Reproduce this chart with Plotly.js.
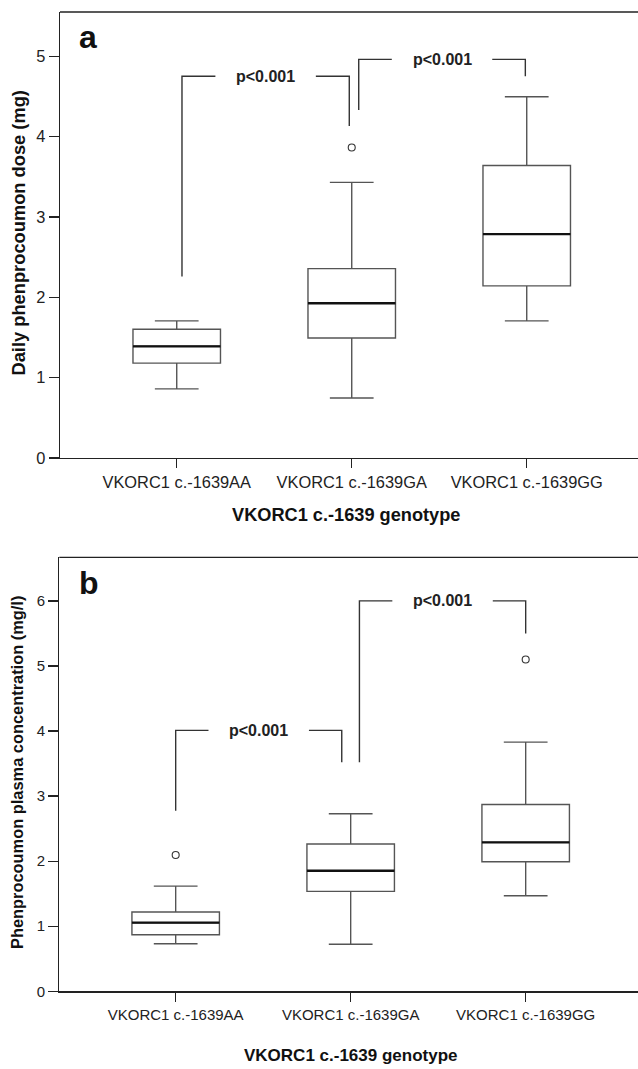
<!DOCTYPE html>
<html>
<head>
<meta charset="utf-8">
<script src="https://cdn.plot.ly/plotly-3.0.1.min.js"></script>
<style>html,body{margin:0;padding:0;background:#fff;overflow:hidden}#wrap{width:638px;height:1069px;overflow:hidden}#chart{width:643px;height:1069px}</style>
</head>
<body>
<div id="wrap"><div id="chart"></div></div>
<script>
// ---------- data ----------
const categories = ['VKORC1 c.-1639AA', 'VKORC1 c.-1639GA', 'VKORC1 c.-1639GG'];
const catIndex = [0, 1, 2];

// panel a: daily phenprocoumon dose (mg)
const doseLowerWhisker = [0.86, 0.747, 1.706];
const doseQ1 = [1.18, 1.494, 2.142];
const doseMedian = [1.39, 1.926, 2.786];
const doseQ3 = [1.602, 2.357, 3.64];
const doseUpperWhisker = [1.706, 3.43, 4.496];
const doseOutlierCat = [1];
const doseOutlierVal = [3.864];
const doseYTicks = [0, 1, 2, 3, 4, 5];

// panel b: phenprocoumon plasma concentration (mg/l)
const concLowerWhisker = [0.731, 0.722, 1.469];
const concQ1 = [0.87, 1.536, 1.991];
const concMedian = [1.054, 1.853, 2.289];
const concQ3 = [1.218, 2.263, 2.872];
const concUpperWhisker = [1.617, 2.728, 3.83];
const concOutlierCat = [0, 2];
const concOutlierVal = [2.094, 5.1];
const concYTicks = [0, 1, 2, 3, 4, 5, 6];

// significance brackets
const dosePairs = [[0, 1], [1, 2]];
const doseBracketTop = [4.75, 4.96];
const doseBracketFootLeft = [2.26, 4.33];
const doseBracketFootRight = [4.13, 4.75];
const doseBracketLabel = ['p<0.001', 'p<0.001'];

const concPairs = [[0, 1], [1, 2]];
const concBracketTop = [4.01, 6.0];
const concBracketFootLeft = [2.774, 3.52];
const concBracketFootRight = [3.52, 5.5];
const concBracketLabel = ['p<0.001', 'p<0.001'];

// ---------- style ----------
const FONT = 'Liberation Sans, Arial, sans-serif';
const W = 643, H = 1069;   // figure slightly wider than the view: right frame edge is cropped as in the original
const boxLine = '#555';
const dark = '#222';
const bracketStyle = {
  dose: {offL: [0.03, 0.04], offR: [-0.014, -0.008]},
  conc: {offL: [0.0, 0.05], offR: [-0.051, 0.0]},
  halfGap: 0.287
};

function px2paperY(p) { return 1 - p / H; }
function px2paperX(p) { return p / W; }

function boxTrace(xa, ya, lo, q1, med, q3, hi) {
  return {
    type: 'box', xaxis: xa, yaxis: ya,
    x: catIndex, q1: q1, median: med, q3: q3,
    lowerfence: lo, upperfence: hi,
    boxpoints: false, width: 0.5, whiskerwidth: 0.5,
    line: {color: boxLine, width: 1.4},
    fillcolor: 'rgba(0,0,0,0)',
    showlegend: false, hoverinfo: 'skip'
  };
}
function outlierTrace(xa, ya, cats, vals) {
  return {
    type: 'scatter', mode: 'markers', xaxis: xa, yaxis: ya,
    x: cats, y: vals,
    marker: {symbol: 'circle-open', size: 7, color: '#333', line: {width: 1.1}},
    showlegend: false, hoverinfo: 'skip'
  };
}
function bracketTraces(xa, ya, pairs, top, footL, footR, st) {
  const traces = [];
  pairs.forEach((p, i) => {
    const xl = p[0] + st.offL[i], xr = p[1] + st.offR[i];
    const mid = (xl + xr) / 2;
    traces.push({
      type: 'scatter', mode: 'lines', xaxis: xa, yaxis: ya,
      x: [xl, xl, mid - bracketStyle.halfGap, null, mid + bracketStyle.halfGap, xr, xr],
      y: [footL[i], top[i], top[i], null, top[i], top[i], footR[i]],
      line: {color: '#333', width: 1.4}, showlegend: false, hoverinfo: 'skip'
    });
  });
  return traces;
}
function bracketLabels(xr, yr, pairs, top, labels, st) {
  return pairs.map((p, i) => {
    const xl = p[0] + st.offL[i], xrr = p[1] + st.offR[i];
    return {
      xref: xr, yref: yr, x: (xl + xrr) / 2, y: top[i], text: '<b>' + labels[i] + '</b>',
      showarrow: false, xanchor: 'center', yanchor: 'middle',
      font: {family: FONT, size: 16, color: dark}
    };
  });
}
function medianShapes(xr, yr, med) {
  return med.map((m, i) => ({
    type: 'line', xref: xr, yref: yr, x0: catIndex[i] - 0.25, x1: catIndex[i] + 0.25,
    y0: m, y1: m, line: {color: '#111', width: 2.3}, layer: 'above'
  }));
}
function topBorder(xr, yr) {
  return {type: 'line', xref: xr + ' domain', yref: yr + ' domain', x0: 0, x1: 1, y0: 1, y1: 1,
          line: {color: dark, width: 1.3}, layer: 'above'};
}

const data = [].concat(
  [boxTrace('x', 'y', doseLowerWhisker, doseQ1, doseMedian, doseQ3, doseUpperWhisker)],
  [outlierTrace('x', 'y', doseOutlierCat, doseOutlierVal)],
  bracketTraces('x', 'y', dosePairs, doseBracketTop, doseBracketFootLeft, doseBracketFootRight, bracketStyle.dose),
  [boxTrace('x2', 'y2', concLowerWhisker, concQ1, concMedian, concQ3, concUpperWhisker)],
  [outlierTrace('x2', 'y2', concOutlierCat, concOutlierVal)],
  bracketTraces('x2', 'y2', concPairs, concBracketTop, concBracketFootLeft, concBracketFootRight, bracketStyle.conc)
);

function xAxis(domainLeft, range, anchor, fsize) {
  return {
    domain: [domainLeft, 1], range: range, anchor: anchor,
    tickmode: 'array', tickvals: catIndex, ticktext: categories,
    ticks: 'outside', ticklen: 9, tickwidth: 1.3, tickcolor: dark,
    showline: true, linecolor: dark, linewidth: 1.3, mirror: false,
    showgrid: false, zeroline: false, fixedrange: true,
    tickfont: {family: FONT, size: fsize, color: dark}
  };
}
function yAxis(domain, range, ticks, anchor, fsize) {
  return {
    domain: domain, range: range, anchor: anchor,
    tickmode: 'array', tickvals: ticks,
    ticks: 'outside', ticklen: 10, tickwidth: 1.3, tickcolor: dark,
    showline: true, linecolor: dark, linewidth: 1.3, mirror: false,
    showgrid: false, zeroline: false, fixedrange: true,
    tickfont: {family: FONT, size: fsize, color: dark}
  };
}

const layout = {
  width: W, height: H,
  margin: {l: 0, r: 0, t: 0, b: 0},
  paper_bgcolor: '#fff', plot_bgcolor: '#fff',
  showlegend: false,
  xaxis: xAxis(px2paperX(60), [-0.667, -0.667 + (W - 60) / 175], 'y', 16.4),
  yaxis: yAxis([px2paperY(458), px2paperY(12)], [0, 5.55], doseYTicks, 'x', 16.4),
  xaxis2: xAxis(px2paperX(59.3), [-0.665, -0.665 + (W - 59.3) / 175], 'y2', 15),
  yaxis2: yAxis([px2paperY(991.3), px2paperY(557.3)], [0, 6.67], concYTicks, 'x2', 15),
  shapes: [].concat(medianShapes('x', 'y', doseMedian), medianShapes('x2', 'y2', concMedian),
                    [topBorder('x', 'y'), topBorder('x2', 'y2')]),
  annotations: [].concat(
    bracketLabels('x', 'y', dosePairs, doseBracketTop, doseBracketLabel, bracketStyle.dose),
    bracketLabels('x2', 'y2', concPairs, concBracketTop, concBracketLabel, bracketStyle.conc),
    [
      {xref: 'paper', yref: 'paper', x: px2paperX(88), y: px2paperY(37), text: '<b>a</b>', showarrow: false,
       xanchor: 'center', yanchor: 'middle', font: {family: FONT, size: 32, color: '#111'}},
      {xref: 'paper', yref: 'paper', x: px2paperX(89), y: px2paperY(583), text: '<b>b</b>', showarrow: false,
       xanchor: 'center', yanchor: 'middle', font: {family: FONT, size: 32, color: '#111'}},
      {xref: 'paper', yref: 'paper', x: px2paperX(18), y: px2paperY(233.5), text: '<b>Daily phenprocoumon dose (mg)</b>',
       textangle: -90, showarrow: false, xanchor: 'center', yanchor: 'middle', font: {family: FONT, size: 18.3, color: '#111'}},
      {xref: 'paper', yref: 'paper', x: px2paperX(17), y: px2paperY(773), text: '<b>Phenprocoumon plasma concentration (mg/l)</b>',
       textangle: -90, showarrow: false, xanchor: 'center', yanchor: 'middle', font: {family: FONT, size: 16.4, color: '#111'}},
      {xref: 'paper', yref: 'paper', x: px2paperX(346), y: px2paperY(515), text: '<b>VKORC1 c.-1639 genotype</b>',
       showarrow: false, xanchor: 'center', yanchor: 'middle', font: {family: FONT, size: 18.2, color: '#111'}},
      {xref: 'paper', yref: 'paper', x: px2paperX(351), y: px2paperY(1055), text: '<b>VKORC1 c.-1639 genotype</b>',
       showarrow: false, xanchor: 'center', yanchor: 'middle', font: {family: FONT, size: 17, color: '#111'}}
    ]
  )
};

Plotly.newPlot('chart', data, layout, {staticPlot: true, displayModeBar: false}).then(gd => {
  // hide any stray vertical frame segment at the cropped right edge
  gd.querySelectorAll('svg path, svg rect, svg line').forEach(el => {
    const r = el.getBoundingClientRect();
    if (r.width < 4 && r.height > 300 && r.left > 560) el.style.display = 'none';
  });
});
</script>
</body>
</html>
